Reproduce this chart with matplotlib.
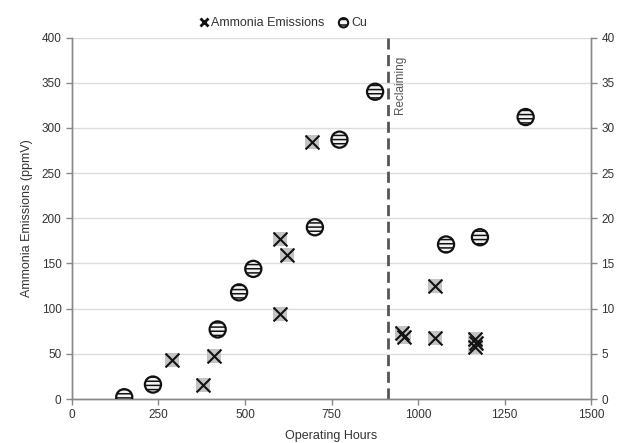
import matplotlib
matplotlib.use("Agg")
import matplotlib.pyplot as plt
from matplotlib.lines import Line2D

plt.rcParams['font.family'] = ['Liberation Sans', 'DejaVu Sans']
plt.rcParams['hatch.color'] = '#666666'
plt.rcParams['hatch.linewidth'] = 1.1

# Ammonia emissions (ppmV) vs operating hours
nh3_hours = [290, 379, 411, 600, 600, 621, 693, 955, 960, 1048, 1050, 1165, 1167, 1165]
nh3_ppmv = [43, 15, 48, 94, 177, 159, 284, 73, 69, 125, 68, 66, 62, 58]

# Cu (right axis) vs operating hours
cu_hours = [151, 234, 421, 483, 524, 702, 773, 876, 1081, 1179, 1311]
cu_vals = [0.2, 1.6, 7.7, 11.8, 14.4, 19.0, 28.7, 34.0, 17.1, 17.9, 31.2]

reclaim_hours = 913

x_ticks = [0, 250, 500, 750, 1000, 1250, 1500]
y_ticks = [0, 50, 100, 150, 200, 250, 300, 350, 400]
y2_ticks = [0, 5, 10, 15, 20, 25, 30, 35, 40]

fig = plt.figure(figsize=(6.19, 4.43), dpi=100)
ax = fig.add_axes([0.1163, 0.0993, 0.8385, 0.816])
ax2 = ax.twinx()

gray = '#888888'
txt = '#333333'

for a in (ax, ax2):
    a.spines['top'].set_visible(False)
    for s in ('left', 'right', 'bottom'):
        a.spines[s].set_color(gray)
        a.spines[s].set_linewidth(1.0)

ax.set_xlim(0, 1500)
ax.set_ylim(0, 400)
ax2.set_ylim(0, 40)
ax.set_xticks(x_ticks)
ax.set_yticks(y_ticks)
ax2.set_yticks(y2_ticks)
ax.tick_params(axis='both', colors=gray, labelcolor=txt, labelsize=8.5, length=4, width=1, direction='out')
ax2.tick_params(axis='y', colors=gray, labelcolor=txt, labelsize=8.5, length=4, width=1, direction='out')

ax.yaxis.grid(True, color='#dddddd', linewidth=1.0)
ax.set_axisbelow(True)

ax.axvline(reclaim_hours, color='#555555', linewidth=2, linestyle=(0, (4, 2)), zorder=2)
ax.text(reclaim_hours + 35, 380, 'Reclaiming', rotation=90, ha='center', va='top',
        fontsize=8.5, color='#555555')

ax.scatter(nh3_hours, nh3_ppmv, marker='s', s=105, color='#c4c4c4', linewidths=0, zorder=3)
ax.scatter(nh3_hours, nh3_ppmv, marker='x', s=100, color='#111111', linewidths=1.5, zorder=4)

ax2.scatter(cu_hours, cu_vals, marker='o', s=135, facecolor='#f4f4f4', edgecolor='#111111',
            linewidths=1.6, hatch='----', zorder=4)

ax.set_xlabel('Operating Hours', fontsize=9, color=txt)
ax.set_ylabel('Ammonia Emissions (ppmV)', fontsize=9, color=txt, labelpad=6)
ax.xaxis.set_label_coords(0.5, -0.085)

h1 = Line2D([], [], linestyle='none', marker='x', color='#111111', markersize=6, markeredgewidth=2)
h2 = ax2.scatter([], [], marker='o', s=45, facecolor='#f4f4f4', edgecolor='#111111',
                 linewidths=1.5, hatch='---')
fig.legend([h1, h2], ['Ammonia Emissions', 'Cu'], loc='center', bbox_to_anchor=(0.456, 0.948),
           ncol=2, frameon=False, fontsize=9, handletextpad=0.1, columnspacing=1.0,
           handlelength=1.0, labelcolor=txt)

fig.savefig('out.png', dpi=100)
